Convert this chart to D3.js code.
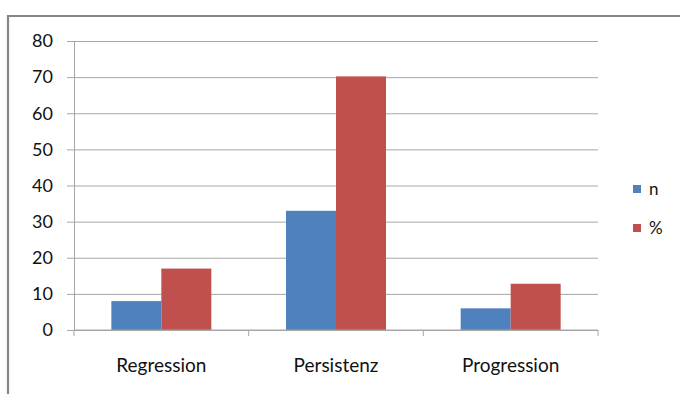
<!DOCTYPE html>
<html>
<head>
<meta charset="utf-8">
<script src="https://cdn.jsdelivr.net/npm/d3@7"></script>
<style>
  html, body { margin: 0; padding: 0; background: #fff; }
  svg { display: block; }
  text { font-family: Lato, "Noto Sans", sans-serif; fill: #111; }
</style>
</head>
<body>
<svg id="chart" width="680" height="394"></svg>
<script>
// Categories and the two series (count and percentage of 47 cases)
const categories = ["Regression", "Persistenz", "Progression"];
const seriesNames = ["n", "%"];
const valuesN = [8, 33, 6];
const valuesPct = [17.0, 70.2, 12.8];
const yTicks = [0, 10, 20, 30, 40, 50, 60, 70, 80];
const colors = ["#4F81BD", "#C0504D"];

const svg = d3.select("#chart");
const W = 680, H = 394;
const plot = { left: 74, right: 598, top: 41, bottom: 330 };

// Outer chart frame (runs past the right and bottom edges)
svg.append("path")
  .attr("d", `M8,${H + 5} V16 H${W + 5}`)
  .attr("fill", "none")
  .attr("stroke", "#868686")
  .attr("stroke-width", 2.2);

const y = d3.scaleLinear().domain([0, 80]).range([plot.bottom, plot.top]);
const x0 = d3.scaleBand().domain(categories).range([plot.left, plot.right]).padding(0);
const x1 = d3.scaleBand().domain(seriesNames).range([0, x0.bandwidth()])
  .paddingInner(0).paddingOuter(0.747);

// Horizontal gridlines with short tick marks to the left
const yAxis = d3.axisLeft(y).tickValues(yTicks)
  .tickSize(-(plot.right - plot.left)).tickPadding(21).tickSizeOuter(0);
const gy = svg.append("g").attr("transform", `translate(${plot.left},0)`).call(yAxis);
gy.select(".domain").attr("stroke", "#a6a6a6");
gy.selectAll(".tick line").attr("stroke", "#a6a6a6").attr("x1", -7);
gy.selectAll(".tick text").attr("font-size", 18).attr("fill", "#111")
  .style("font-family", "Lato, 'Noto Sans', sans-serif");

// Bars
const rows = categories.map((c, i) => ({ cat: c, vals: [valuesN[i], valuesPct[i]] }));
const groups = svg.append("g").selectAll("g").data(rows).join("g")
  .attr("transform", d => `translate(${x0(d.cat)},0)`);
groups.selectAll("rect")
  .data(d => d.vals.map((v, j) => ({ key: seriesNames[j], v, j })))
  .join("rect")
  .attr("x", d => x1(d.key))
  .attr("width", x1.bandwidth())
  .attr("y", d => y(d.v))
  .attr("height", d => y(0) - y(d.v))
  .attr("fill", d => colors[d.j]);

// Category axis with boundary ticks
const gx = svg.append("g").attr("transform", `translate(0,${plot.bottom})`);
gx.append("line").attr("x1", plot.left).attr("x2", plot.right)
  .attr("stroke", "#a6a6a6");
const bounds = categories.map(c => x0(c)).concat([plot.right]);
gx.selectAll("line.b").data(bounds).join("line").attr("class", "b")
  .attr("x1", d => d).attr("x2", d => d).attr("y1", 0).attr("y2", 6)
  .attr("stroke", "#a6a6a6");
gx.selectAll("text").data(categories).join("text")
  .attr("x", d => x0(d) + x0.bandwidth() / 2)
  .attr("y", 42)
  .attr("text-anchor", "middle")
  .attr("font-size", 19)
  .text(d => d);

// Legend
const legend = svg.append("g").selectAll("g").data(seriesNames).join("g")
  .attr("transform", (d, i) => `translate(633,${185 + i * 39})`);
legend.append("rect").attr("width", 8).attr("height", 8)
  .attr("fill", (d, i) => colors[i]);
legend.append("text").attr("x", 16).attr("y", 10)
  .attr("font-size", 17).text(d => d);
</script>
</body>
</html>
